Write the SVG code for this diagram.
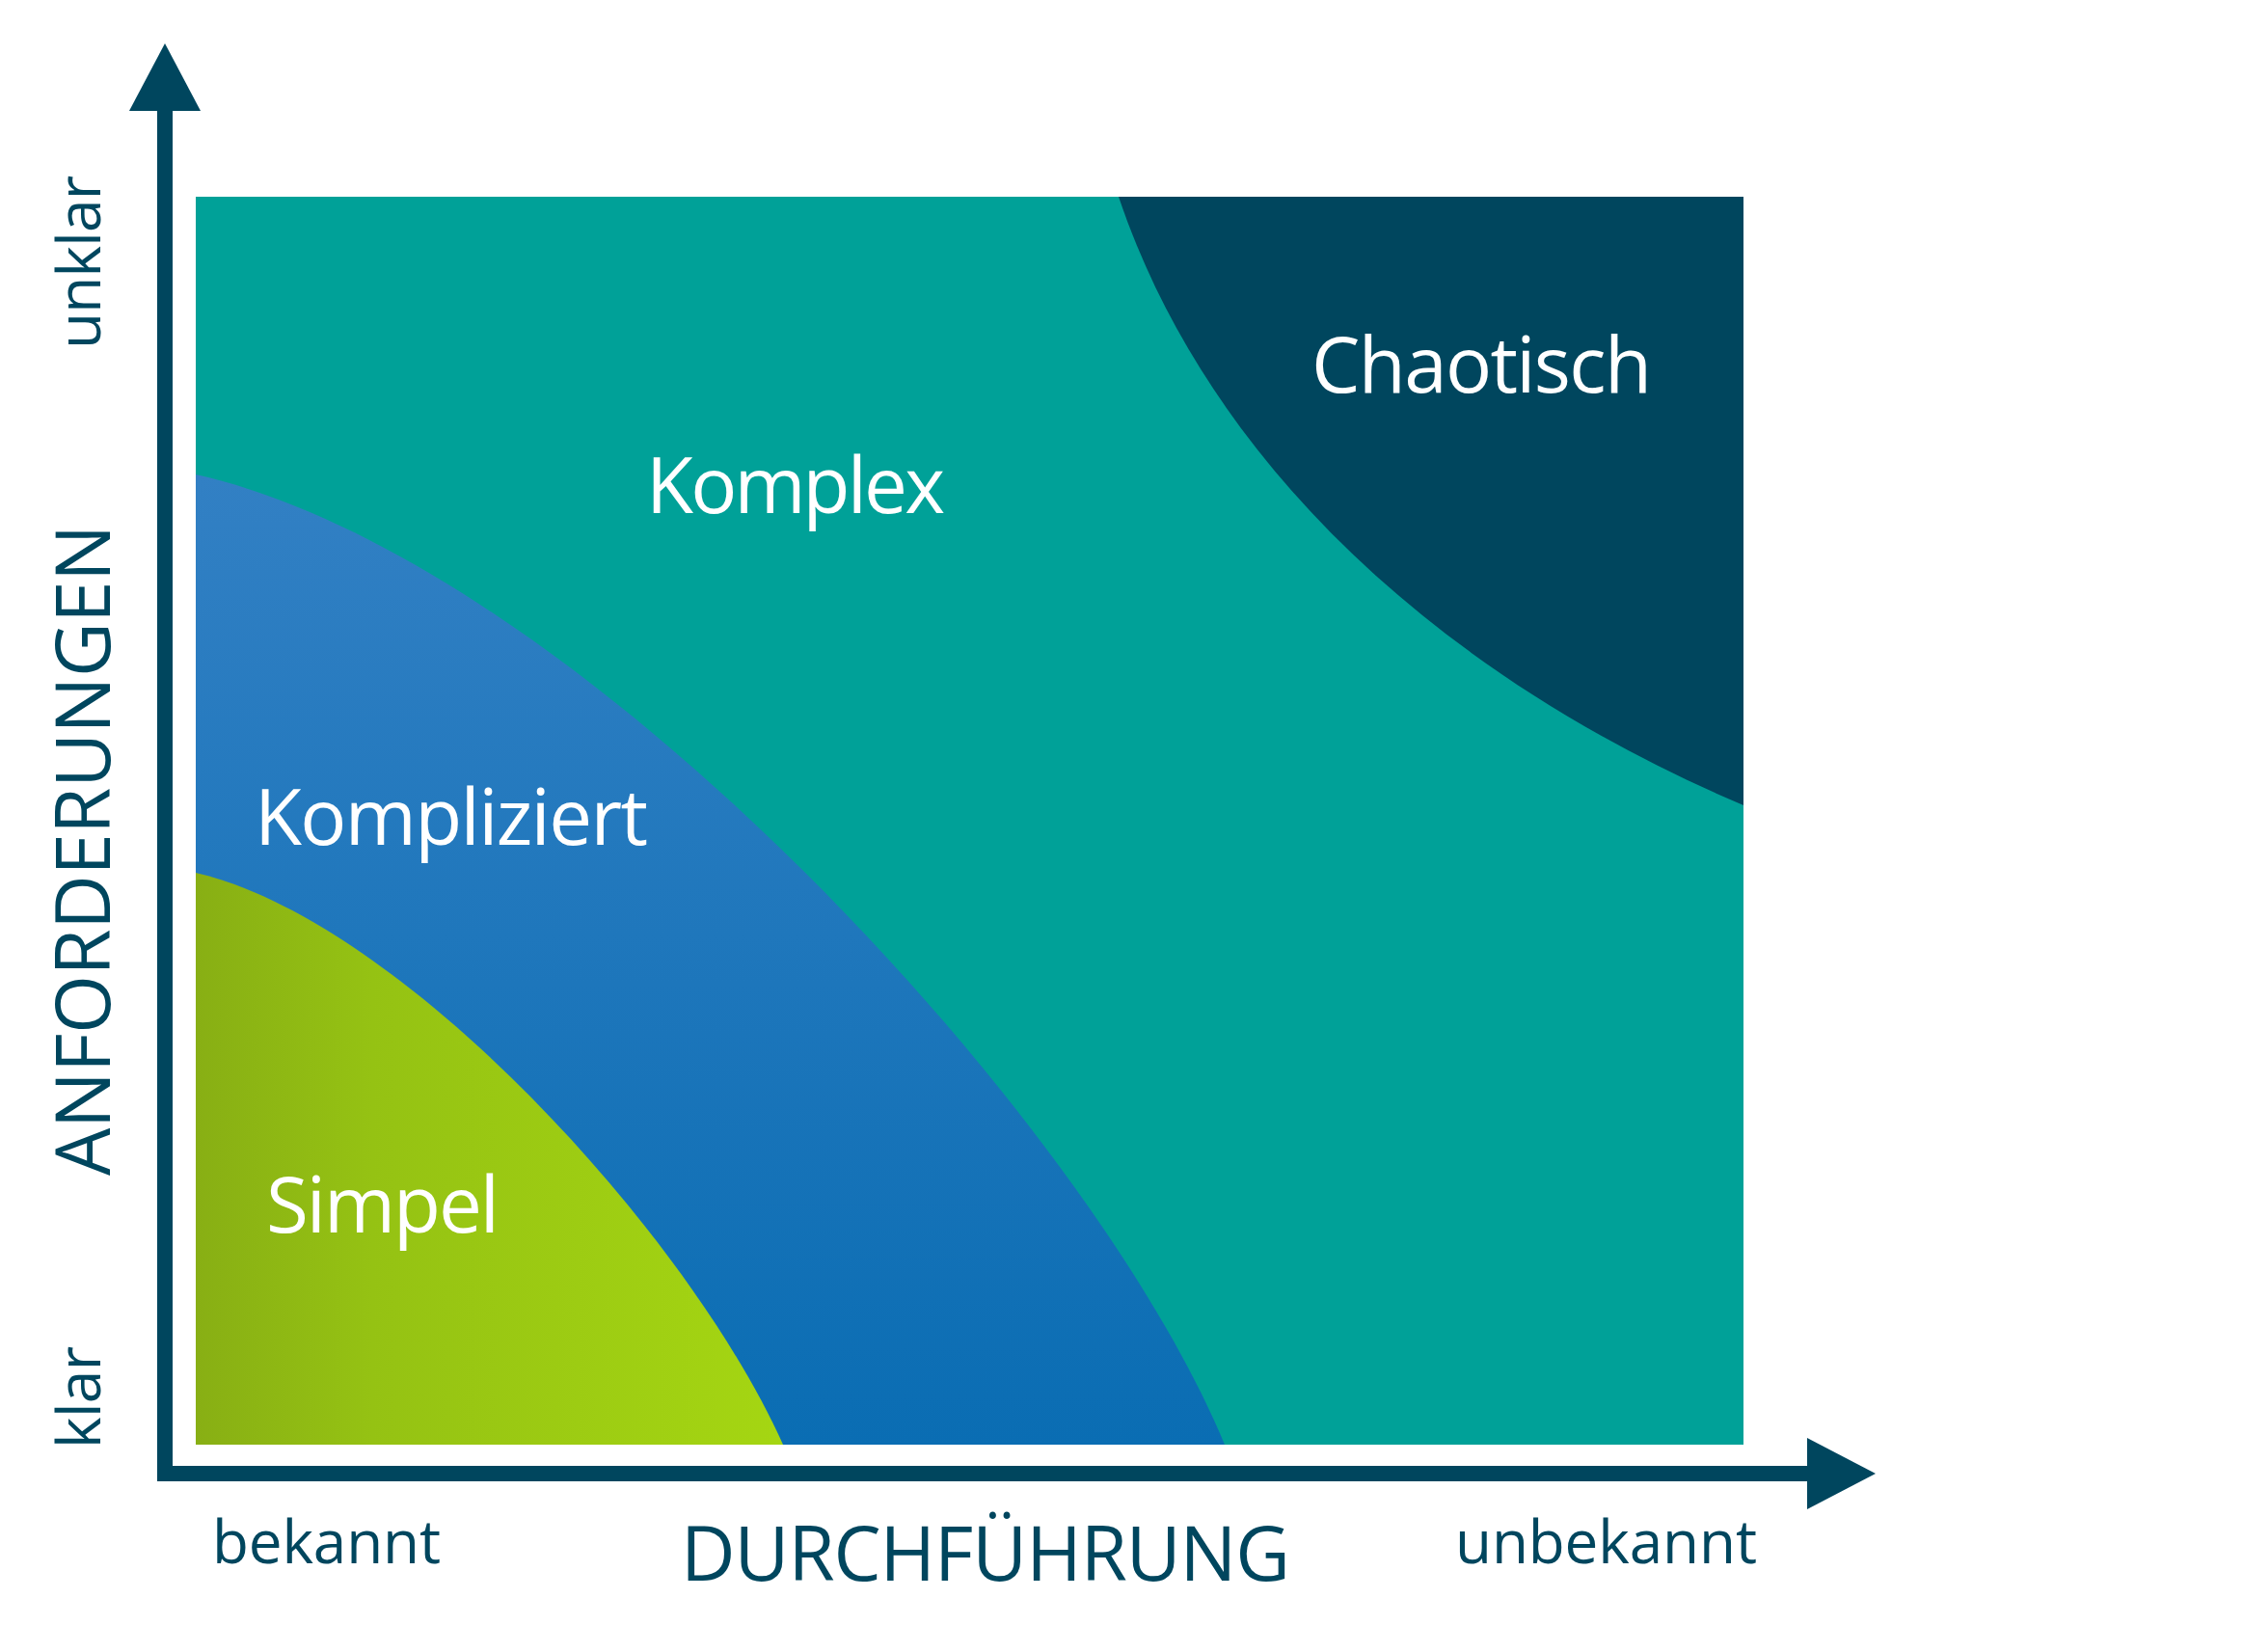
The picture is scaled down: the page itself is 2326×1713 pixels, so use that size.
<svg xmlns="http://www.w3.org/2000/svg" width="2326" height="1713" viewBox="0 0 2326 1713">
<style>
.w{fill:#fff;font-family:"Open Sans","Liberation Sans",sans-serif;font-size:80px}
.a{fill:#00465E;font-family:"Open Sans","Liberation Sans",sans-serif;font-size:62px}
</style>
<defs>
<linearGradient id="gb" x1="0" y1="0" x2="0" y2="1"><stop offset="0" stop-color="#3280C4"/><stop offset="1" stop-color="#0A6DB3"/></linearGradient>
<linearGradient id="gg" x1="0" y1="0" x2="1" y2="0"><stop offset="0" stop-color="#88AF14"/><stop offset="0.3" stop-color="#95C213"/><stop offset="1" stop-color="#A5D612"/></linearGradient>
</defs>
<rect width="2326" height="1713" fill="#fff"/>
<g id="komplex"><rect x="203" y="204" width="1605" height="1294" fill="#00A198"/>
<text class="w" x="670" y="532" textLength="310">Komplex</text></g>
<g id="chaotisch"><path d="M1160,204 C1252,477 1490,700 1808,835 L1808,204 Z" fill="#00465E"/>
<text class="w" x="1360" y="407" textLength="353">Chaotisch</text></g>
<g id="kompliziert"><path d="M203,492 C596,580 1130,1160 1270,1498 L203,1498 Z" fill="url(#gb)"/>
<text class="w" x="264" y="876" textLength="408">Kompliziert</text></g>
<g id="simpel"><path d="M203,905 C417,954 715,1281 812,1498 L203,1498 Z" fill="url(#gg)"/>
<text class="w" x="276" y="1278" textLength="242">Simpel</text></g>
<g id="axes" fill="#00465E" stroke="#00465E">
<path d="M171,112 L171,1528 L1880,1528" fill="none" stroke-width="16"/>
<polygon points="171,45 134,115 208,115" stroke="none"/>
<polygon points="1945,1528 1874,1491 1874,1565" stroke="none"/>
</g>
<g id="labels">
<text class="a" x="220" y="1621" textLength="237">bekannt</text>
<text class="a" x="706" y="1639" textLength="632" style="font-size:78px">DURCHFÜHRUNG</text>
<text class="a" x="1509" y="1621" textLength="313">unbekannt</text>
<text class="a" transform="translate(104,362) rotate(-90)" textLength="180">unklar</text>
<text class="a" transform="translate(104,1502) rotate(-90)" textLength="106">klar</text>
<text class="a" transform="translate(114,1219) rotate(-90)" textLength="675" style="font-size:78px">ANFORDERUNGEN</text>
</g>
</svg>
